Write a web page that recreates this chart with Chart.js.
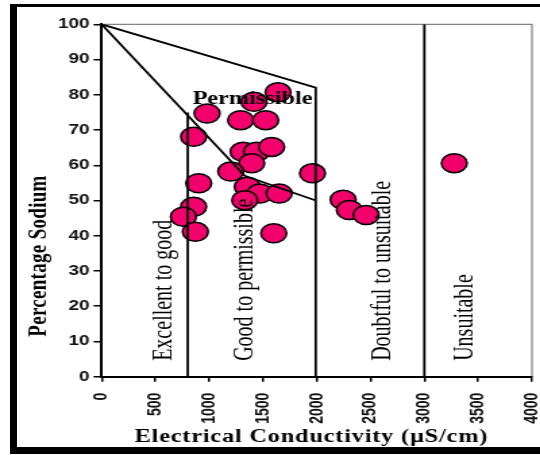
<!DOCTYPE html>
<html>
<head>
<meta charset="utf-8">
<script src="https://cdn.jsdelivr.net/npm/chart.js@4/dist/chart.umd.min.js"></script>
<style>
  html, body { margin: 0; padding: 0; background: #fff; }
  body { width: 540px; height: 455px; position: relative; overflow: hidden; }
  /* the source picture is stretched sideways, so the chart is drawn narrow and scaled */
  #wrap { position: absolute; left: 0; top: 0; width: 405px; height: 455px;
          transform: scaleX(1.35); transform-origin: 0 0; }
  .bar { position: absolute; background: #000; z-index: 2; }
</style>
</head>
<body>
<div id="wrap"><canvas id="wilcox"></canvas></div>
<div class="bar" style="left:10px;top:4px;width:530px;height:3px"></div>
<div class="bar" style="left:10px;top:4px;width:7px;height:450px"></div>
<div class="bar" style="left:10px;top:447px;width:530px;height:7px"></div>
<script>
// Sample points: EC (uS/cm) and percentage sodium
const ecValues = [855, 980, 902, 855, 760, 871,
  1416, 1640, 1292, 1525, 1315, 1440, 1580, 1395, 1200, 1960,
  1354, 1470, 1650, 1330, 1600,
  2245, 2303, 2459, 3278];
const naValues = [68.1, 74.7, 54.9, 48.2, 45.4, 41.1,
  78.0, 80.7, 72.8, 72.8, 63.8, 63.8, 65.2, 60.6, 58.2, 57.7,
  53.9, 52.0, 52.0, 50.1, 40.7,
  50.2, 47.3, 45.9, 60.6];

// Wilcox class boundaries
const upperEC = [0, 1990, 1990];
const upperNa = [100, 82, 0];
const lowerEC = [0, 1330, 1990];
const lowerNa = [100, 57, 50];
const line800EC = [800, 800];
const line800Na = [0, 75];
const line3000EC = [3000, 3000];
const line3000Na = [0, 100];

const zoneLabels = ['Excellent to good', 'Good to permissible', 'Doubtful to unsuitable', 'Unsuitable'];
const topLabel = 'Permissible';
const xTitle = 'Electrical Conductivity (\u00b5S/cm)';
const yTitle = 'Percentage Sodium';

const toXY = (xs, ys) => xs.map((x, i) => ({ x: x, y: ys[i] }));

function lineSet(xs, ys) {
  return {
    type: 'scatter',
    data: toXY(xs, ys),
    showLine: true,
    borderColor: '#000',
    borderWidth: 1.8,
    pointRadius: 0,
    fill: false,
    order: 1
  };
}

const textPlugin = {
  id: 'wilcoxText',
  beforeDraw(chart) {
    const a = chart.chartArea;
    const ctx = chart.ctx;
    ctx.save();
    ctx.strokeStyle = '#666';
    ctx.lineWidth = 1;
    ctx.strokeRect(a.left, a.top, a.right - a.left, a.bottom - a.top);
    ctx.restore();
  },
  afterDatasetsDraw(chart) {
    const ctx = chart.ctx;
    const xs = chart.scales.x, ys = chart.scales.y;
    const a = chart.chartArea;
    ctx.save();
    ctx.fillStyle = '#000';

    // zone names, reading upwards
    const zoneEC = [654, 1405, 2683, 3449];
    ctx.font = '20px "Liberation Serif", "DejaVu Serif", serif';
    ctx.textAlign = 'left';
    ctx.textBaseline = 'alphabetic';
    zoneLabels.forEach((t, i) => {
      ctx.save();
      ctx.translate(xs.getPixelForValue(zoneEC[i]), ys.getPixelForValue(4.5));
      ctx.rotate(-Math.PI / 2);
      ctx.fillText(t, 0, 0);
      ctx.restore();
    });

    ctx.font = 'bold 18px "Liberation Serif", serif';
    ctx.fillText(topLabel, xs.getPixelForValue(845), ys.getPixelForValue(77.4));

    // axis titles
    ctx.textAlign = 'center';
    ctx.textBaseline = 'middle';
    if ('letterSpacing' in ctx) ctx.letterSpacing = '0.6px';
    ctx.fillText(xTitle, (a.left + a.right) / 2 - 4, a.bottom + 61);
    ctx.font = 'bold 19px "Liberation Serif", serif';
    if ('letterSpacing' in ctx) ctx.letterSpacing = '0.3px';
    ctx.save();
    ctx.translate(29, 256);
    ctx.rotate(-Math.PI / 2);
    ctx.fillText(yTitle, 0, 0);
    ctx.restore();
    ctx.restore();
  }
};

new Chart(document.getElementById('wilcox'), {
  type: 'scatter',
  data: {
    datasets: [
      lineSet(upperEC, upperNa),
      lineSet(lowerEC, lowerNa),
      lineSet(line800EC, line800Na),
      lineSet(line3000EC, line3000Na),
      {
        data: toXY(ecValues, naValues),
        backgroundColor: '#F2006C',
        borderColor: '#000',
        borderWidth: 1.5,
        pointRadius: 9.5,
        order: 2
      }
    ]
  },
  options: {
    responsive: true,
    maintainAspectRatio: false,
    animation: false,
    layout: { padding: { top: 24.3, right: 0, left: 0, bottom: 0 } },
    plugins: { legend: { display: false }, tooltip: { enabled: false } },
    scales: {
      x: {
        type: 'linear',
        min: 0, max: 4000,
        afterFit: s => { s.height = 78.3; s.paddingLeft = 0; s.paddingRight = 0; },
        border: { display: true, color: '#000', width: 2 },
        grid: { drawOnChartArea: false, color: '#000', tickLength: 5, lineWidth: 1.5 },
        ticks: {
          stepSize: 500, autoSkip: false, minRotation: 90, maxRotation: 90,
          padding: 11, color: '#111',
          callback: v => String(v),
          font: { family: '"Liberation Sans", Arial, sans-serif', size: 14, weight: 'bold' }
        }
      },
      y: {
        min: 0, max: 100,
        afterFit: s => { s.width = 75.3; s.paddingTop = 0; s.paddingBottom = 0; },
        border: { display: true, color: '#000', width: 2 },
        grid: { drawOnChartArea: false, color: '#000', tickLength: 6, lineWidth: 1.5 },
        ticks: {
          stepSize: 10, padding: 3, color: '#111',
          callback: v => String(v),
          font: { family: '"Liberation Sans", Arial, sans-serif', size: 14, weight: 'bold' }
        }
      }
    }
  },
  plugins: [textPlugin]
});
</script>
</body>
</html>
